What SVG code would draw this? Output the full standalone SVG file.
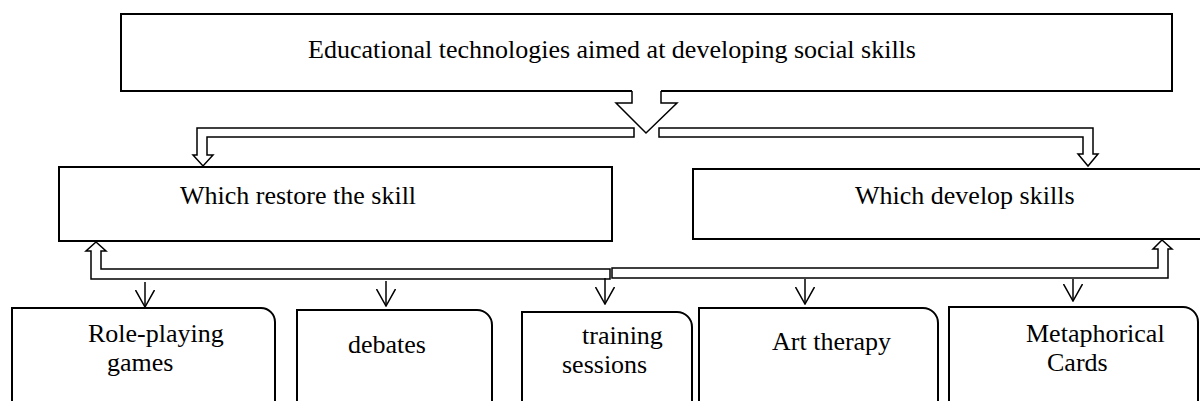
<svg xmlns="http://www.w3.org/2000/svg" width="1200" height="401" viewBox="0 0 1200 401">
<defs>
<style>
.box{fill:#fff;stroke:#000;stroke-width:2}
.hol{fill:#fff;stroke:#000;stroke-width:1.5;stroke-linejoin:miter}
.ln{fill:none;stroke:#000;stroke-width:1.5}
text{font-family:"Liberation Serif","Times New Roman",serif;font-size:26px;fill:#000}
</style>
<marker id="v" viewBox="0 0 18 20" refX="17" refY="10" markerWidth="18" markerHeight="20" markerUnits="userSpaceOnUse" orient="auto">
<path d="M0,0.5 L17,10 L0,19.5" fill="none" stroke="#000" stroke-width="1.5"/>
</marker>
</defs>
<rect width="1200" height="401" fill="#fff"/>

<g id="top">
<rect class="box" x="121" y="14" width="1051" height="77"/>
<text x="308" y="58">Educational technologies aimed at developing social skills</text>
</g>

<g id="restore">
<rect class="box" x="59" y="167" width="553" height="74"/>
<text x="180" y="204">Which restore the skill</text>
</g>

<g id="develop">
<rect class="box" x="693" y="169" width="520" height="70"/>
<text x="855" y="204">Which develop skills</text>
</g>

<g id="roleplay">
<path class="box" d="M12,410 V308 H261 A14,14 0 0 1 275,322 V410"/>
<text x="88" y="342">Role-playing</text>
<text x="107" y="371">games</text>
</g>

<g id="debates">
<path class="box" d="M297,410 V310 H477 A15,15 0 0 1 492,325 V410"/>
<text x="348" y="353">debates</text>
</g>

<g id="training">
<path class="box" d="M522,410 V312 H677 A15,15 0 0 1 692,327 V410"/>
<text x="582" y="344">training</text>
<text x="562" y="373">sessions</text>
</g>

<g id="art">
<path class="box" d="M699,410 V308 H923 A15,15 0 0 1 938,323 V410"/>
<text x="772" y="350">Art therapy</text>
</g>

<g id="cards">
<path class="box" d="M949,410 V307 H1183 A15,15 0 0 1 1198,322 V410"/>
<text x="1026" y="342">Metaphorical</text>
<text x="1047" y="371">Cards</text>
</g>

<g id="connectors">
<polygon points="632,89 661,89 661,103 677,103 646,133 616,103 632,103" fill="#fff"/>
<path class="ln" d="M632,91 V103 H616 L646,133 L677,103 H661 V91"/>
<polygon class="hol" points="634,128 197,128 197,155 193,155 203,166 213,155 207,155 207,137 634,137"/>
<polygon class="hol" points="659,128 1093,128 1093,154 1098,154 1088,166 1078,154 1083,154 1083,137 659,137"/>
<polygon class="hol" points="610,269 101,269 101,251 106,251 96,242 86,251 91,251 91,279 610,279"/>
<polygon class="hol" points="612,268 1158,268 1158,249 1153,249 1162,240 1172,249 1168,249 1168,278 612,278"/>
<line class="ln" x1="145" y1="282" x2="145" y2="307" marker-end="url(#v)"/>
<line class="ln" x1="386" y1="281" x2="386" y2="306" marker-end="url(#v)"/>
<line class="ln" x1="605" y1="278" x2="605" y2="304" marker-end="url(#v)"/>
<line class="ln" x1="805" y1="279" x2="805" y2="304" marker-end="url(#v)"/>
<line class="ln" x1="1073" y1="279" x2="1073" y2="301" marker-end="url(#v)"/>
</g>
</svg>
